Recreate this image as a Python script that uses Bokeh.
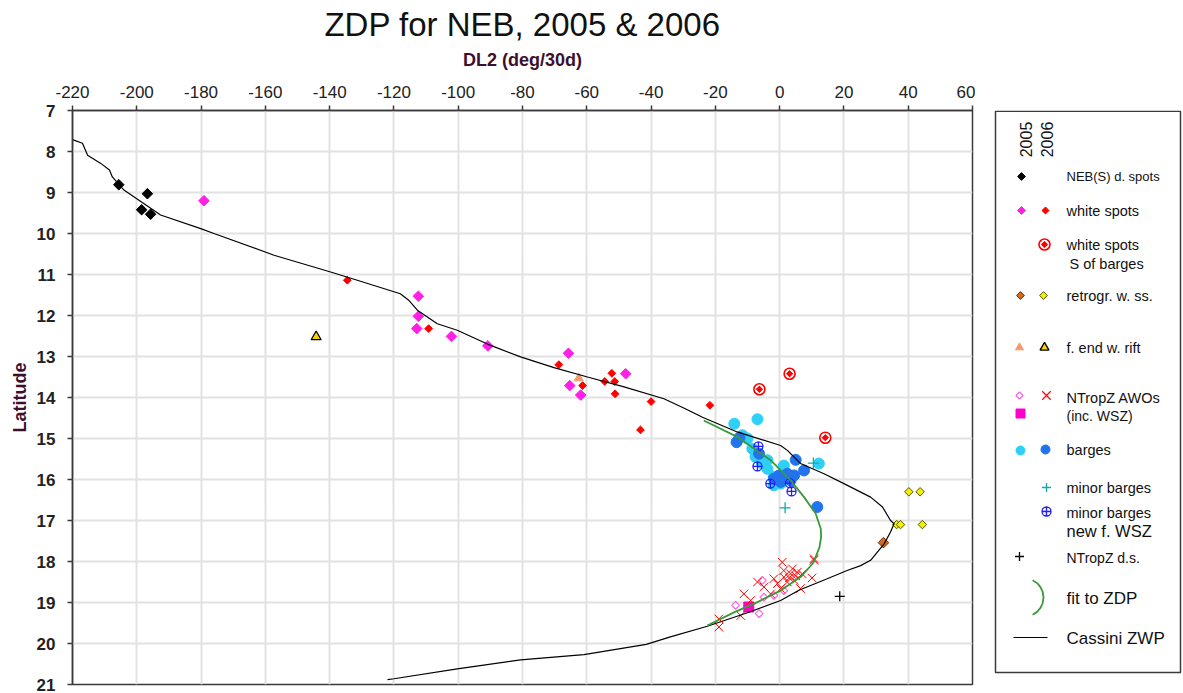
import numpy as np
from bokeh.plotting import figure
from bokeh.layouts import row
from bokeh.models import Range1d, FixedTicker, ColumnDataSource
from bokeh.core.properties import value
from bokeh.embed import file_html
from bokeh.resources import INLINE

FONT = "Liberation Sans"

# ---- axes -------------------------------------------------------------
x_ticks = list(range(-220, 61, 20))
x_tick_labels = [str(t) for t in x_ticks]
y_ticks = list(range(7, 22))
y_tick_labels = [str(t) for t in y_ticks]

# ---- Cassini zonal wind profile (converted to DL2) ---------------------
cassini_dl2 = [-220, -216.9, -215.3, -211.2, -208.5, -207.6, -204, -192.6, -180.1, -176,
               -157.3, -139.7, -131.4, -118, -115.5, -112.7, -106.5, -100.3, -89.9, -80.6,
               -70.2, -59.8, -48.4, -36, -30, -24, -13.2, 0.3, 2.4, 6.5,
               13.8, 20, 28.3, 32, 34.5, 35.6, 34.5, 32.5, 28.3, 25.2,
               21, 14.8, 6, 0.3, -10, -22.5, -34, -41.5, -60.9, -80.6,
               -100.3, -120, -122]
cassini_lat = [7.71, 7.80, 8.09, 8.29, 8.45, 8.62, 8.94, 9.55, 9.88, 10.0,
               10.53, 10.94, 11.14, 11.47, 11.62, 11.87, 12.2, 12.36, 12.73, 13.01,
               13.27, 13.5, 13.74, 14.03, 14.25, 14.48, 14.84, 15.17, 15.29, 15.61,
               15.86, 16.1, 16.43, 16.67, 17.0, 17.08, 17.28, 17.57, 17.97, 18.1,
               18.22, 18.42, 18.7, 18.95, 19.25, 19.58, 19.84, 20.02, 20.27, 20.4,
               20.62, 20.86, 20.88]

# ---- fitted ZDP --------------------------------------------------------
fit_dl2 = [-23.6, -13.2, -2.8, 3.4, 7.6, 11.2, 12.8, 12.9, 12.4, 10.5, 6.5, 0.3, -6.9, -14.2, -22.5]
fit_lat = [14.56, 14.96, 15.53, 16.02, 16.43, 16.83, 17.2, 17.4, 17.65, 18.03, 18.38, 18.71, 18.99, 19.24, 19.56]

# ---- NEB(S) dark spots (2005) -----------------------------------------
nebs_ds_dl2 = [-205.6, -196.7, -198.5, -195.7]
nebs_ds_lat = [8.81, 9.03, 9.42, 9.53]

# ---- white spots -------------------------------------------------------
ws05_dl2 = [-179.1, -112.4, -112.4, -112.9, -102.1, -90.8, -65.7, -65.3, -61.9, -47.9]
ws05_lat = [9.2, 11.53, 12.02, 12.32, 12.51, 12.74, 12.92, 13.71, 13.94, 13.42]
ws06_dl2 = [-134.5, -109.2, -68.7, -61.3, -52.2, -54.4, -51.3, -51.2, -40.0, -43.3, -21.7]
ws06_lat = [11.14, 12.32, 13.2, 13.71, 13.41, 13.61, 13.61, 13.91, 14.1, 14.79, 14.19]

# white spots S of barges (2006)
wsb_dl2 = [3.1, -6.3, 14.2]
wsb_lat = [13.42, 13.8, 14.98]

# ---- retrograding white spots -----------------------------------------
rws05_dl2 = [32.3]
rws05_lat = [17.54]
rws06_dl2 = [40.2, 43.7, 36.4, 37.6, 44.4]
rws06_lat = [16.3, 16.3, 17.1, 17.1, 17.1]

# ---- f. end of rift ----------------------------------------------------
rift05_dl2 = [-62.5]
rift05_lat = [13.53]
rift06_dl2 = [-144.2]
rift06_lat = [12.52]

# ---- NTropZ AWOs -------------------------------------------------------
awo05_dl2 = [-13.7, -6.4, -4.9, -1.8, 1.3, -5.4]
awo05_lat = [19.07, 19.27, 18.87, 18.83, 18.71, 18.46]
wsz05_dl2 = [-9.6]
wsz05_lat = [19.11]
awo06_dl2 = [-18.9, -18.9, -12.1, -11.1, -6.9, 0.8, 10.7, 10.7, 10.1, -4.9, -2.8, -0.7,
             1.3, 3.4, 4.5, 5.5, 2.4, 0.3, 6.5, -1.8, 4.0, 1.3, -9.0, 3.0, 5.0, 7.0]
awo06_lat = [19.4, 19.6, 19.32, 18.79, 18.5, 18.02, 17.97, 17.93, 18.4, 18.62, 18.79, 18.54,
             18.38, 18.3, 18.46, 18.26, 18.5, 18.66, 18.66, 18.42, 18.18, 18.22, 18.95, 18.4, 18.35, 18.3]

# ---- barges ------------------------------------------------------------
barge05_dl2 = [-6.9, -14.1, -11.6, -8.5, -7.5, -3.8, -3.8, 1.3, -1.8, 0.3, -1.8, 12.2, -10.0, -5.5]
barge05_lat = [14.53, 14.64, 14.92, 15.25, 15.45, 15.53, 15.74, 15.66, 15.94, 16.1, 16.14, 15.61, 15.0, 15.6]
barge06_dl2 = [-13.4, -12.5, -6.4, 5.0, 7.6, 4.5, 2.4, -0.2, -1.8, 0.3, 3.4, 11.7]
barge06_lat = [15.09, 14.98, 15.37, 15.52, 15.78, 15.9, 15.86, 15.9, 15.98, 16.06, 16.02, 16.67]

# minor barges (2006)
mbarge06_dl2 = [10.5, 1.7]
mbarge06_lat = [15.6, 16.69]
# minor barges, new f. WSZ (2006)
mbwsz06_dl2 = [-6.6, -6.9, -2.9, 3.2, 3.7]
mbwsz06_lat = [15.19, 15.68, 16.1, 16.09, 16.29]

# NTropZ dark spot (2005)
ntds_dl2 = [18.7]
ntds_lat = [18.85]

# ---- legend texts ------------------------------------------------------
legend_years = ["2005", "2006"]
legend_labels = ["NEB(S) d. spots", "white spots", "white spots", "S of barges",
                 "retrogr. w. ss.", "f. end w. rift", "NTropZ AWOs", "(inc. WSZ)",
                 "barges", "minor barges", "minor barges", "new f. WSZ",
                 "NTropZ d.s.", "fit to ZDP", "Cassini ZWP"]

# colours
C_MAGENTA = "#ff1fe6"
C_RED = "#ff0000"
C_CYAN = "#2fd0f5"
C_BLUE = "#2274ec"
C_ORANGE = "#d9691c"
C_YELLOW = "#f5f000"
C_TEAL = "#13a8a8"
C_GREEN = "#3a9a3a"
C_PINK = "#ff66dd"
C_ROYAL = "#1d1dff"
C_TRI05 = "#f29a6e"
C_TRI06 = "#ffd000"
AX = "#3a3a3a"
LABEL = "#3d0f2e"

# frame edges in page pixels
TOP, BOTTOM = 110, 684

p = figure(width=975, height=693,
           x_range=Range1d(-220, 60), y_range=Range1d(21, 7),
           x_axis_location="above", output_backend="svg", toolbar_location=None,
           min_border_left=72, min_border_right=3, min_border_top=TOP, min_border_bottom=693 - BOTTOM,
           title="ZDP for NEB, 2005 & 2006")
p.background_fill_color = "white"
p.border_fill_color = "white"
p.outline_line_color = AX
p.outline_line_width = 1.5

p.title.text_font = FONT
p.title.text_font_size = "33px"
p.title.text_font_style = "normal"
p.title.text_color = "#111111"
p.title.align = "center"
p.title.standoff = 7

p.xaxis.ticker = FixedTicker(ticks=x_ticks)
p.xaxis.major_label_overrides = {t: s for t, s in zip(x_ticks, x_tick_labels)}
p.yaxis.ticker = FixedTicker(ticks=y_ticks)
p.yaxis.major_label_overrides = {t: s for t, s in zip(y_ticks, y_tick_labels)}
p.xgrid.ticker = FixedTicker(ticks=x_ticks)
p.ygrid.ticker = FixedTicker(ticks=y_ticks)
p.grid.grid_line_color = "#e2e2e2"
p.grid.grid_line_width = 2

p.xaxis.axis_label = "DL2 (deg/30d)"
p.yaxis.axis_label = "Latitude"
for ax in (p.xaxis, p.yaxis):
    ax.axis_line_color = AX
    ax.axis_line_width = 1.5
    ax.major_tick_line_color = AX
    ax.major_tick_line_width = 1.5
    ax.major_tick_in = 0
    ax.major_tick_out = 5
    ax.minor_tick_line_color = None
    ax.axis_label_text_font = FONT
    ax.axis_label_text_font_style = "bold"
    ax.axis_label_text_color = LABEL
    ax.major_label_text_font = FONT
    ax.major_label_text_color = "#222222"
p.xaxis.major_label_text_font_size = "17px"
p.xaxis.major_label_standoff = 8
p.xaxis.axis_label_text_font_size = "18px"
p.xaxis.axis_label_standoff = 13
p.yaxis.major_label_text_font_size = "17px"
p.yaxis.major_label_text_font_style = "bold"
p.yaxis.major_label_standoff = 12
p.yaxis.axis_label_text_font_size = "18px"
p.yaxis.axis_label_standoff = 4

D45 = np.pi / 4

# points
p.scatter(nebs_ds_dl2, nebs_ds_lat, marker="square", angle=D45, size=7.5, color="#000000")
p.scatter(ws05_dl2, ws05_lat, marker="square", angle=D45, size=7.5, color=C_MAGENTA)
p.scatter(ws06_dl2, ws06_lat, marker="square", angle=D45, size=5.5, color=C_RED)
p.scatter(rift05_dl2, rift05_lat, marker="triangle", size=9, fill_color=C_TRI05, line_color=C_TRI05)
p.scatter(rift06_dl2, rift06_lat, marker="triangle", size=10, fill_color=C_TRI06, line_color="#000000", line_width=1.3)
p.scatter(barge05_dl2, barge05_lat, marker="circle", size=11, color=C_CYAN)
p.scatter(barge06_dl2, barge06_lat, marker="circle", size=11, color=C_BLUE)
p.scatter(wsb_dl2, wsb_lat, marker="circle", size=11, fill_color="white", line_color=C_RED, line_width=1.6)
p.scatter(wsb_dl2, wsb_lat, marker="square", angle=D45, size=4.5, color=C_RED)
p.scatter(rws05_dl2, rws05_lat, marker="square", angle=D45, size=7.5, fill_color=C_ORANGE, line_color="#6b3000", line_width=1)
p.scatter(rws06_dl2, rws06_lat, marker="square", angle=D45, size=6, fill_color=C_YELLOW, line_color="#555500", line_width=1)
p.scatter(mbwsz06_dl2, mbwsz06_lat, marker="circle_cross", size=9, fill_color=None, line_color=C_ROYAL, line_width=1.3)
p.scatter(mbarge06_dl2, mbarge06_lat, marker="cross", size=11, line_color=C_TEAL, line_width=1.3)
p.scatter(awo05_dl2, awo05_lat, marker="square", angle=D45, size=5.5, fill_color=None, line_color=C_PINK, line_width=1.2)
p.scatter(wsz05_dl2, wsz05_lat, marker="square", size=10, color="#ff00cc")
p.scatter(awo06_dl2, awo06_lat, marker="x", size=12, line_color=C_RED, line_width=1)
p.scatter(ntds_dl2, ntds_lat, marker="cross", size=10, line_color="#000000", line_width=1.3)

# profiles
p.line(cassini_dl2, cassini_lat, line_color="#000000", line_width=1.2)
p.line(fit_dl2, fit_lat, line_color=C_GREEN, line_width=1.8)

# ---- legend panel: data coordinates equal page pixels -------------------
OFF = 975
lg = figure(width=208, height=693, x_range=Range1d(0, 208), y_range=Range1d(BOTTOM, TOP),
            output_backend="svg", toolbar_location=None,
            x_axis_location=None, y_axis_location=None,
            min_border_left=0, min_border_right=0,
            min_border_top=TOP, min_border_bottom=693 - BOTTOM)
lg.grid.visible = False
lg.outline_line_color = None
lg.background_fill_color = "white"
lg.border_fill_color = "white"

lg.quad(left=995 - OFF, right=1180 - OFF, top=110.8, bottom=672,
        fill_color=None, line_color=AX, line_width=1.5)

c05, c06 = 1021 - OFF, 1045 - OFF
tx = 1066 - OFF

lg.text(x=[1025 - OFF, 1046 - OFF], y=[139, 139], text=legend_years, angle=np.pi / 2,
        text_font=value(FONT), text_font_size=value("16px"), text_align="center",
        text_baseline="middle", text_color="#111111")

lab_x = [tx, tx, tx, tx + 3, tx, tx, tx, tx, tx, tx, tx, tx, tx, tx, tx]
lab_y = [176, 210, 244, 263, 295, 347, 397, 415, 449, 487, 512, 530, 557, 598, 638]
lab_fs = ["13px", "14.5px", "14.5px", "14.5px", "14.5px", "14.5px", "14.5px", "14px",
          "14.5px", "14.5px", "14.5px", "16.5px", "14px", "17px", "17px"]
lg.text(x="x", y="y", text="t", text_font_size="fs",
        source=ColumnDataSource(dict(x=lab_x, y=lab_y, t=legend_labels, fs=lab_fs)),
        text_font=value(FONT), text_baseline="middle", text_align="left", text_color="#111111")

lg.scatter([c05], [176], marker="square", angle=D45, size=5.5, color="#000000")
lg.scatter([c05], [210], marker="square", angle=D45, size=5.5, color=C_MAGENTA)
lg.scatter([c06], [210], marker="square", angle=D45, size=5, color=C_RED)
lg.scatter([c06 - 1], [244], marker="circle", size=11, fill_color="white", line_color=C_RED, line_width=1.6)
lg.scatter([c06 - 1], [244], marker="square", angle=D45, size=4.5, color=C_RED)
lg.scatter([c05 - 1], [295], marker="square", angle=D45, size=5.5, fill_color=C_ORANGE, line_color="#6b3000")
lg.scatter([c06 - 2], [295], marker="square", angle=D45, size=5.5, fill_color=C_YELLOW, line_color="#555500")
lg.scatter([c05 - 2], [347], marker="triangle", size=8, fill_color=C_TRI05, line_color=C_TRI05)
lg.scatter([c06 - 1], [347], marker="triangle", size=9, fill_color=C_TRI06, line_color="#000000", line_width=1.3)
lg.scatter([c05 - 2], [395], marker="square", angle=D45, size=5, fill_color=None, line_color=C_PINK, line_width=1.2)
lg.scatter([c06 + 1], [395], marker="x", size=12, line_color=C_RED, line_width=1.2)
lg.scatter([c05 - 1], [413], marker="square", size=9, color="#ff00cc")
lg.scatter([c05 - 1], [450], marker="circle", size=9, color=C_CYAN)
lg.scatter([c06], [449], marker="circle", size=9, color=C_BLUE)
lg.scatter([c06 + 1], [487], marker="cross", size=9, line_color=C_TEAL, line_width=1.3)
lg.scatter([c06 + 1], [511], marker="circle_cross", size=9, fill_color=None, line_color=C_ROYAL, line_width=1.3)
lg.scatter([c05 - 2], [556], marker="cross", size=9, line_color="#000000", line_width=1.3)
lg.arc(x=[1024 - OFF], y=[597], radius=19, start_angle=-np.pi * 0.36, end_angle=np.pi * 0.36,
       line_color=C_GREEN, line_width=1.8)
lg.line([1013 - OFF, 1047 - OFF], [637, 637], line_color="#000000", line_width=1.2)

layout = row(p, lg, spacing=0)
open("out.html", "w").write(file_html(layout, INLINE))
